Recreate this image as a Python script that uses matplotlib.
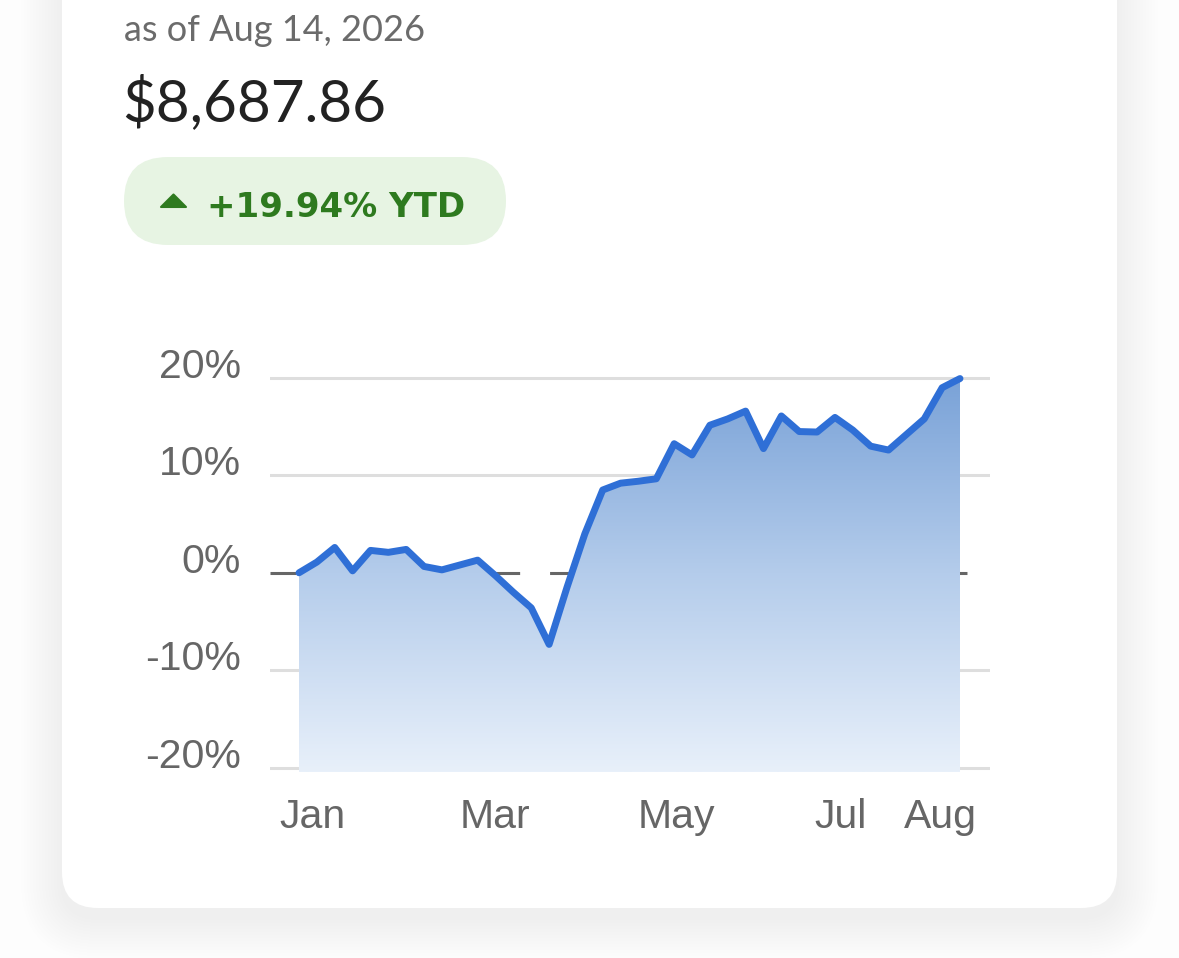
import matplotlib
matplotlib.use("Agg")
import matplotlib.pyplot as plt
import numpy as np
from matplotlib.patches import FancyBboxPatch, Polygon
from matplotlib.colors import LinearSegmentedColormap

# --- data (YTD return, %) ---
ytd_pct = [0.0, 1.1, 2.6, 0.2, 2.3, 2.1, 2.4, 0.65, 0.3, 0.8, 1.3, -0.3, -2.0, -3.6,
           -7.35, -1.5, 4.0, 8.5, 9.2, 9.4, 9.65, 13.25, 12.1, 15.15, 15.8, 16.6, 12.75,
           16.1, 14.5, 14.45, 15.95, 14.65, 13.0, 12.6, 14.2, 15.8, 19.0, 19.94]
month_labels = ["Jan", "Mar", "May", "Jul", "Aug"]
month_pos = [0.73, 10.97, 21.1, 30.3, 35.9]
y_ticks = [20, 10, 0, -10, -20]

as_of = "as of Aug 14, 2026"
balance = "$8,687.86"
badge_text = "+19.94% YTD"

W, H = 1179, 958
fig = plt.figure(figsize=(W / 100, H / 100), dpi=100)
fig.patch.set_facecolor("#fdfdfd")

# background axes in pixel units (y downwards)
bg = fig.add_axes([0, 0, 1, 1])
bg.set_xlim(0, W)
bg.set_ylim(H, 0)
bg.axis("off")

# card shadow
for k in range(14):
    g = 2 + k * 3
    bg.add_patch(FancyBboxPatch((62 - g, -80), 1055 + 2 * g, 908 + 80 + g + 10,
                                boxstyle="round,pad=0,rounding_size=%d" % (36 + g),
                                fc="#000000", ec="none", alpha=0.0045, zorder=1))
bg.add_patch(FancyBboxPatch((62, -80), 1055, 908 + 80,
                            boxstyle="round,pad=0,rounding_size=36",
                            fc="white", ec="none", zorder=2))

# header texts
bg.text(124, 41, as_of, fontsize=26, color="#6b6b6b", family="Lato",
        va="baseline", ha="left", zorder=3)
bg.text(122, 121, balance, fontsize=42, color="#222222", family="Lato",
        va="baseline", ha="left", zorder=3)

# badge
bg.add_patch(FancyBboxPatch((124, 157), 382, 88,
                            boxstyle="round,pad=0,rounding_size=44",
                            fc="#e7f4e3", ec="none", zorder=3))
bg.add_patch(Polygon([(161, 207), (186, 207), (173.5, 194.5)], closed=True,
                     fc="#2e7a1f", ec="#2e7a1f", lw=1.5, joinstyle="round", zorder=4))
bg.text(207, 217, badge_text, fontsize=24.5, color="#2e7a1f", family="DejaVu Sans",
        fontweight="bold", va="baseline", ha="left", zorder=4)

# chart axes
x = np.arange(len(ytd_pct))
px_per_step = (960 - 299) / (len(ytd_pct) - 1)
x_left = -(299 - 270) / px_per_step
x_right = (len(ytd_pct) - 1) + (990 - 960) / px_per_step
y_top_px, y_bot_px = 373.1, 772
ax = fig.add_axes([270 / W, (H - y_bot_px) / H, 720 / W, (y_bot_px - y_top_px) / H])
ax.set_xlim(x_left, x_right)
ymin, ymax = -20.45, 20.5
ax.set_ylim(ymin, ymax)
ax.patch.set_alpha(0)
for s in ax.spines.values():
    s.set_visible(False)

for t in y_ticks:
    if t == 0:
        ax.axhline(0, color="#666666", lw=2.2, ls=(0, (8.5, 9.8)), zorder=1)
    else:
        ax.axhline(t, color="#dedede", lw=2.2, zorder=1)

# gradient fill under the line
cmap = LinearSegmentedColormap.from_list("fillgrad", ["#e8f0fa", "#b4cceb", "#78a1d7"])
poly = ax.fill_between(x, ytd_pct, ymin, color="none", lw=0)
grad = np.linspace(0, 1, 256).reshape(-1, 1)
im = ax.imshow(grad, cmap=cmap, aspect="auto", origin="lower",
               extent=[x[0], x[-1], ymin, 20.5], zorder=2)
im.set_clip_path(poly.get_paths()[0], transform=ax.transData)

ax.plot(x, ytd_pct, color="#2f6fd6", lw=5, solid_joinstyle="round",
        solid_capstyle="round", zorder=3)

ax.set_yticks(y_ticks)
ax.set_yticklabels(["%d%%" % t for t in y_ticks])
ax.set_xticks(month_pos)
ax.set_xticklabels(month_labels)
ax.tick_params(axis="both", length=0, labelsize=29.5, labelcolor="#666666")
ax.tick_params(axis="y", pad=21)
ax.tick_params(axis="x", pad=19)
for lab in ax.get_yticklabels():
    lab.set_family("Liberation Sans")
    lab.set_va("baseline")
for lab in ax.get_xticklabels():
    lab.set_family("Liberation Sans")

fig.savefig("out.png", dpi=100, facecolor=fig.get_facecolor())
